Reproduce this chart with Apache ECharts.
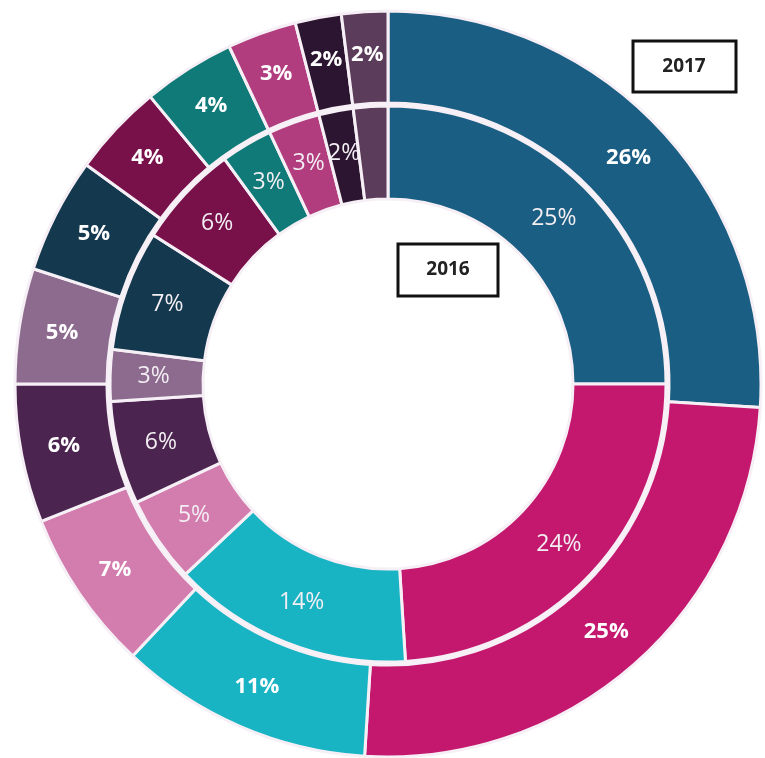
<!DOCTYPE html>
<html>
<head>
<meta charset="utf-8">
<script src="https://cdn.jsdelivr.net/npm/echarts@6/dist/echarts.min.js"></script>
<style>html,body{margin:0;padding:0;background:#fff;}#c{width:765px;height:758px;}</style>
</head>
<body>
<div id="c"></div>
<script>
const categories = ['A','B','C','D','E','F','G','H','I','J','K','L'];
const values2017 = [26, 25, 11, 7, 6, 5, 5, 4, 4, 3, 2, 2];
const values2016 = [25, 24, 14, 5, 6, 3, 7, 6, 3, 3, 2, 2];
const colors = ['#1b5e83','#c4186f','#19b4c4','#d37cae','#4b2550','#8c6b8f','#14394f','#78104a','#0f7a78','#b23d7e','#2c1530','#5b3c5a'];

const chart = echarts.init(document.getElementById('c'));
const cx = 388, cy = 384;
function mk(vals){ return categories.map((c,i)=>({name:c, value:vals[i], itemStyle:{color:colors[i]}})); }
chart.setOption({
  animation:false,
  series:[
    {
      type:'pie', name:'2016', center:[cx,cy], radius:[185,278], startAngle:90, clockwise:true,
      data: mk(values2016),
      itemStyle:{borderColor:'#f6f0f6', borderWidth:3},
      label:{show:true, position:'inside', formatter:'{c}%', color:'#f3eef3', fontSize:23, fontFamily:'Open Sans', fontWeight:'normal'},
      labelLine:{show:false}, emphasis:{disabled:true}
    },
    {
      type:'pie', name:'2017', center:[cx,cy], radius:[281,373], startAngle:90, clockwise:true,
      data: mk(values2017),
      itemStyle:{borderColor:'#f6f0f6', borderWidth:3},
      label:{show:true, position:'inside', formatter:'{c}%', color:'#ffffff', fontSize:22, fontFamily:'Open Sans', fontWeight:'bold'},
      labelLine:{show:false}, emphasis:{disabled:true}
    }
  ],
  graphic:[
    {type:'rect', shape:{x:633,y:41,width:103,height:51}, style:{fill:'#fff', stroke:'#111', lineWidth:3}},
    {type:'text', x:684, y:67, style:{text:'2017', font:'bold 19px "Open Sans"', fill:'#222', align:'center', verticalAlign:'middle'}},
    {type:'rect', shape:{x:398,y:244,width:100,height:52}, style:{fill:'#fff', stroke:'#111', lineWidth:3}},
    {type:'text', x:448, y:270, style:{text:'2016', font:'bold 19px "Open Sans"', fill:'#222', align:'center', verticalAlign:'middle'}}
  ]
});
</script>
</body>
</html>
